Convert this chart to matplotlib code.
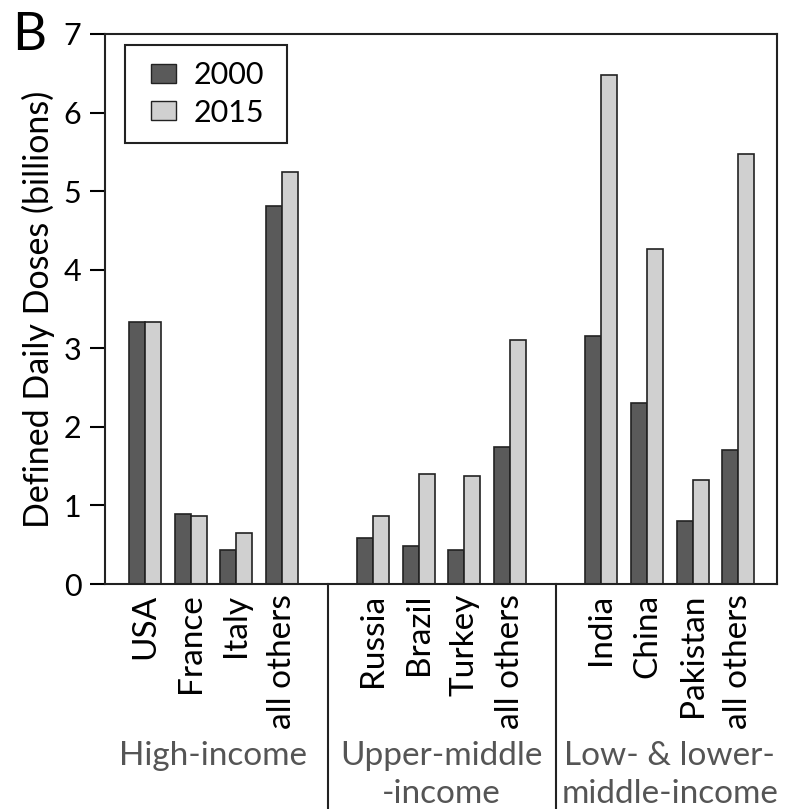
import matplotlib
matplotlib.use("Agg")
import matplotlib.pyplot as plt
from matplotlib.patches import Patch, Rectangle

plt.rcParams['font.family'] = ['Lato', 'DejaVu Sans']

groups = ['High-income', 'Upper-middle\n-income', 'Low- & lower-\nmiddle-income']
countries = [['USA', 'France', 'Italy', 'all others'],
             ['Russia', 'Brazil', 'Turkey', 'all others'],
             ['India', 'China', 'Pakistan', 'all others']]
ddd_2000 = [[3.33, 0.89, 0.43, 4.81],
            [0.59, 0.49, 0.43, 1.74],
            [3.16, 2.30, 0.80, 1.70]]
ddd_2015 = [[3.33, 0.86, 0.65, 5.24],
            [0.86, 1.40, 1.37, 3.10],
            [6.48, 4.26, 1.33, 5.47]]

dark = '#5a5a5a'
light = '#d0d0d0'
edge = '#222222'
w = 0.35

fig = plt.figure(figsize=(7.87, 8.09), dpi=100)
ax = fig.add_axes([0.1334, 0.2781, 0.8539, 0.6799])

xs, labels = [], []
for g in range(len(groups)):
    for i, name in enumerate(countries[g]):
        x = g * 5 + i
        xs.append(x)
        labels.append(name)
        ax.bar(x - w / 2, ddd_2000[g][i], w, color=dark, edgecolor=edge, linewidth=1.2)
        ax.bar(x + w / 2, ddd_2015[g][i], w, color=light, edgecolor=edge, linewidth=1.2)

ax.set_xlim(-0.877, 13.85)
ax.set_ylim(0, 7)
ax.set_yticks(range(8))
ax.tick_params(axis='y', length=11, width=1.5, pad=6, labelsize=22, direction='out')
ax.set_xticks(xs)
ax.set_xticklabels(labels, rotation=90, fontsize=24)
ax.tick_params(axis='x', length=0, pad=7)
for s in ax.spines.values():
    s.set_linewidth(1.5)
    s.set_color('#222222')

ax.set_ylabel('Defined Daily Doses (billions)', fontsize=24.5, labelpad=6)

# group dividers and labels below the axis
trans = ax.get_xaxis_transform()
for xd in [4, 9]:
    ax.plot([xd, xd], [0, -0.42], transform=trans, color='#222222', lw=1.5, clip_on=False)
for g, gname in enumerate(groups):
    ax.text(g * 5 + 1.5, -0.286, gname, transform=trans, ha='center', va='top',
            fontsize=24, color='#555555', linespacing=1.32)

# legend: frame drawn separately so the padding matches
ax.add_patch(Rectangle((0.0297, 0.8016), 0.2409, 0.1784, transform=ax.transAxes,
                       facecolor='white', edgecolor='#222222', lw=1.5, zorder=4))
leg = ax.legend(handles=[Patch(facecolor=dark, edgecolor=edge, label='2000'),
                         Patch(facecolor=light, edgecolor=edge, label='2015')],
                loc='center', bbox_to_anchor=(0.153, 0.891), frameon=False,
                fontsize=22, handlelength=0.8, handleheight=0.6, handletextpad=0.6,
                labelspacing=0.3, borderpad=0)
leg.set_zorder(5)

fig.text(0.015, 0.985, 'B', fontsize=38, va='top')

fig.savefig('out.png', dpi=100)
